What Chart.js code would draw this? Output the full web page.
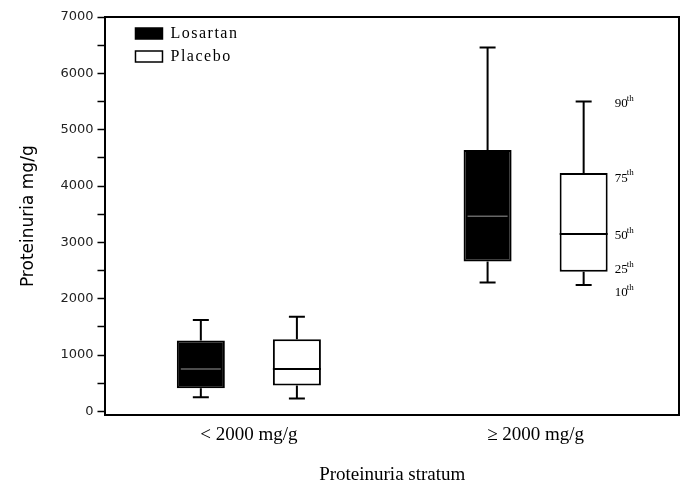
<!DOCTYPE html>
<html>
<head>
<meta charset="utf-8">
<script src="https://cdn.jsdelivr.net/npm/chart.js@4/dist/chart.umd.min.js"></script>
<style>
  body { margin: 0; background: #fff; }
  #wrap { width: 686px; height: 486px; }
</style>
</head>
<body>
<div id="wrap"><canvas id="myChart"></canvas></div>
<script>
// dados (percentis 10/25/50/75/90)
const categories = ['< 2000 mg/g', '\u2265 2000 mg/g'];
const losP10 = [250, 2290];
const losP25 = [410, 2660];
const losP50 = [755, 3465];
const losP75 = [1260, 4640];
const losP90 = [1625, 6460];
const plaP10 = [230, 2245];
const plaP25 = [460, 2480];
const plaP50 = [755, 3150];
const plaP75 = [1280, 4230];
const plaP90 = [1680, 5500];
const pctNames = ['90', '75', '50', '25', '10'];
const yTicks = [0, 1000, 2000, 3000, 4000, 5000, 6000, 7000];

const serif = '"Liberation Serif", "Times New Roman", serif';
const sans = '"DejaVu Sans", Verdana, sans-serif';

const stats = [
  { p10: losP10, p50: losP50, p90: losP90, median: '#666' },
  { p10: plaP10, p50: plaP50, p90: plaP90, median: '#000' }
];

// whiskers, medianas, moldura, legenda e rótulos de percentis
const boxPlugin = {
  id: 'boxExtras',
  afterDatasetsDraw(chart) {
    const c = chart.ctx;
    const y = chart.scales.y;
    const area = chart.chartArea;
    c.save();
    c.strokeStyle = '#000';
    stats.forEach((s, i) => {
      const meta = chart.getDatasetMeta(i);
      meta.data.forEach((bar, j) => {
        const x = bar.x, w = bar.width;
        const top = Math.min(bar.y, bar.base), bot = Math.max(bar.y, bar.base);
        const y90 = y.getPixelForValue(s.p90[j]);
        const y10 = y.getPixelForValue(s.p10[j]);
        const ym = y.getPixelForValue(s.p50[j]);
        c.lineWidth = 2;
        c.beginPath();
        c.moveTo(x, top); c.lineTo(x, y90);
        c.moveTo(x - 8, y90); c.lineTo(x + 8, y90);
        c.moveTo(x, bot); c.lineTo(x, y10);
        c.moveTo(x - 8, y10); c.lineTo(x + 8, y10);
        c.stroke();
        c.strokeStyle = s.median;
        c.lineWidth = i === 0 ? 1.5 : 2;
        c.beginPath();
        c.moveTo(x - w / 2 + (i === 0 ? 4 : 0), ym);
        c.lineTo(x + w / 2 - (i === 0 ? 4 : 0), ym);
        c.stroke();
        c.strokeStyle = '#000';
      });
    });

    // moldura superior e direita
    c.lineWidth = 2;
    c.beginPath();
    c.moveTo(area.left, area.top); c.lineTo(area.right, area.top);
    c.lineTo(area.right, area.bottom);
    c.stroke();

    // rótulos de percentis ao lado da última caixa
    const pm = chart.getDatasetMeta(1).data[1];
    const lx = pm.x + pm.width / 2 + 7;
    const vals = [plaP90[1], plaP75[1], plaP50[1], plaP25[1], plaP10[1]];
    const offs = [0, 3, 0, -4, 6];
    c.fillStyle = '#000';
    c.textBaseline = 'middle';
    c.textAlign = 'left';
    vals.forEach((v, k) => {
      const ty = y.getPixelForValue(v) + offs[k];
      c.font = '13px ' + serif;
      c.fillText(pctNames[k], lx, ty + 2);
      const wNum = c.measureText(pctNames[k]).width;
      c.font = '9px ' + serif;
      c.fillText('th', lx + wNum - 1, ty - 3);
    });

    // legenda
    const lg = [['Losartan', '#000'], ['Placebo', '#fff']];
    lg.forEach((item, k) => {
      const bx = area.left + 30, by = area.top + 11 + k * 23;
      c.fillStyle = item[1];
      c.fillRect(bx, by, 27, 11);
      c.lineWidth = 1.5;
      c.strokeRect(bx, by, 27, 11);
      c.fillStyle = '#000';
      c.font = '16px ' + serif;
      c.letterSpacing = '1.5px';
      c.fillText(item[0], bx + 35, by + 6);
      c.letterSpacing = '0px';
    });
    c.restore();
  }
};

new Chart(document.querySelector('#myChart'), {
  type: 'bar',
  data: {
    labels: categories,
    datasets: [{
      label: 'Losartan',
      data: losP25.map((v, i) => [v, losP75[i]]),
      backgroundColor: '#000',
      borderColor: '#000',
      borderWidth: 2,
      borderSkipped: false
    }, {
      label: 'Placebo',
      data: plaP25.map((v, i) => [v, plaP75[i]]),
      backgroundColor: '#fff',
      borderColor: '#000',
      borderWidth: 2,
      borderSkipped: false
    }]
  },
  options: {
    responsive: true,
    maintainAspectRatio: false,
    animation: false,
    categoryPercentage: 0.67,
    barPercentage: 0.5,
    layout: { padding: { top: 17, right: 7, left: 18, bottom: 0 } },
    plugins: {
      legend: { display: false },
      tooltip: { enabled: false }
    },
    scales: {
      x: {
        grid: { display: false, drawTicks: false },
        border: { display: true, color: '#000', width: 2 },
        ticks: { color: '#000', font: { family: serif, size: 19 }, padding: 8 },
        title: {
          display: true, text: 'Proteinuria stratum', color: '#000',
          font: { family: serif, size: 19 }, padding: { top: 9, bottom: 0 }
        }
      },
      y: {
        min: -70,
        max: 7000,
        afterBuildTicks: (axis) => {
          const t = [];
          for (let v = 0; v <= 7000; v += 500) t.push({ value: v });
          axis.ticks = t;
        },
        grid: { drawOnChartArea: false, drawTicks: true, tickLength: 8, color: '#000', tickWidth: 1.5 },
        border: { display: true, color: '#000', width: 2 },
        ticks: {
          color: '#222',
          font: { family: sans, size: 13 },
          padding: 4,
          callback: (v) => yTicks.includes(v) ? String(v) : ''
        },
        title: {
          display: true, text: 'Proteinuria mg/g', color: '#000',
          font: { family: sans, size: 17 }, padding: { top: 0, bottom: 18 }
        }
      }
    }
  },
  plugins: [boxPlugin]
});
</script>
</body>
</html>
